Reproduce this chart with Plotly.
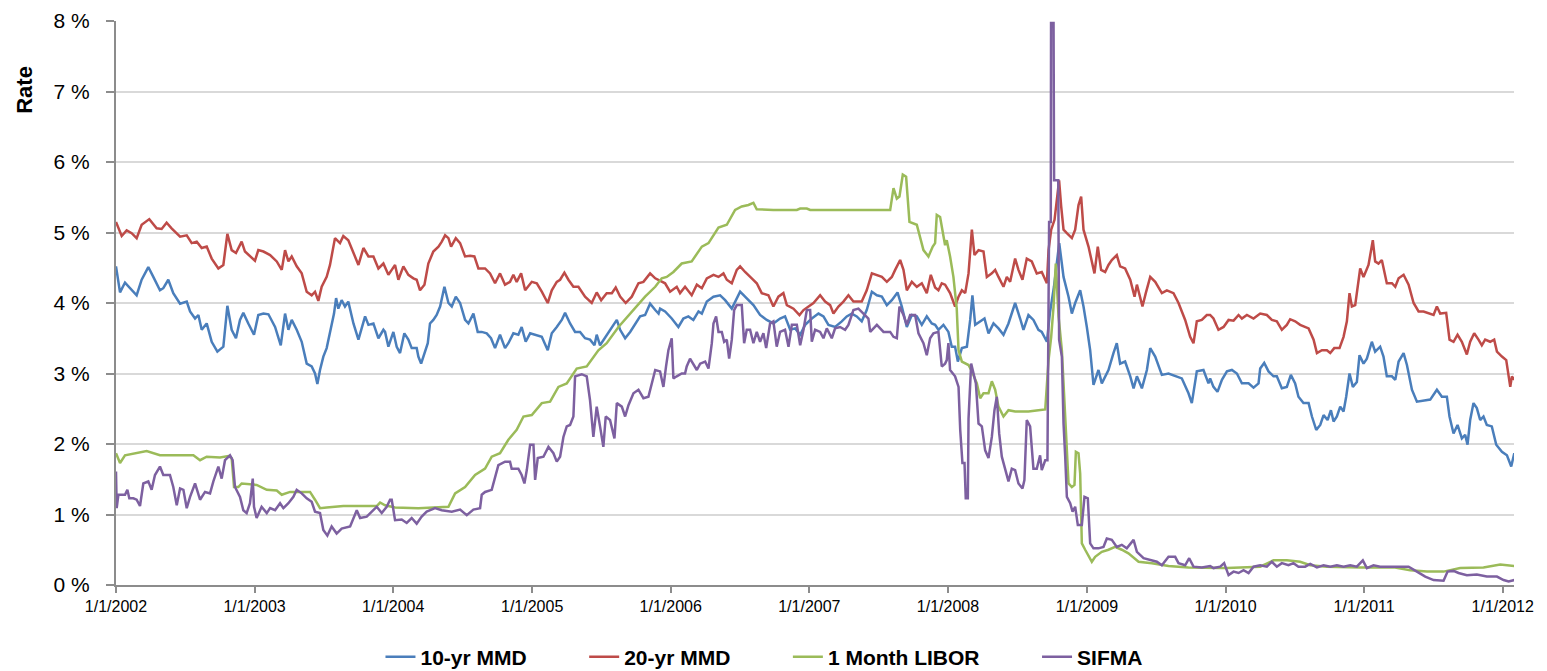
import pandas as pd
import plotly.graph_objects as go

# ---- data: time in years since 1/1/2002, values in percent ----
mmd10_t = [0.000,0.029,0.065,0.101,0.149,0.185,0.233,0.269,0.317,0.341,0.377,0.413,0.462,0.510,0.534,0.570,0.594,0.618,0.654,0.690,0.731,0.774,0.803,0.834,0.865,0.894,0.918,0.954,0.995,1.026,1.063,1.099,1.147,1.188,1.219,1.243,1.267,1.303,1.339,1.375,1.411,1.435,1.452,1.471,1.495,1.519,1.543,1.572,1.587,1.603,1.627,1.651,1.675,1.712,1.748,1.772,1.796,1.820,1.856,1.892,1.928,
           1.940,1.964,2.000,2.024,2.048,2.079,2.108,2.132,2.168,2.180,2.200,2.224,2.248,2.264,2.288,2.312,2.337,2.368,2.397,2.421,2.450,2.481,2.517,2.541,2.577,2.608,2.637,2.673,2.704,2.733,2.769,2.805,2.829,2.865,2.901,2.925,2.954,2.986,3.022,3.070,3.113,3.142,3.178,3.214,3.238,3.274,3.310,3.346,3.382,3.418,3.450,3.466,3.490,3.538,3.575,3.611,3.635,3.671,3.707,3.743,3.779,3.815,3.851,3.888,3.912,
           3.923,3.959,4.007,4.055,4.091,4.127,4.163,4.200,4.224,4.260,4.308,4.356,4.392,4.440,4.500,4.548,4.596,4.644,4.692,4.740,4.788,4.824,4.861,4.897,4.933,4.969,5.017,5.065,5.101,5.137,5.185,5.233,5.269,5.305,5.341,5.377,5.413,5.450,5.486,5.522,5.558,5.594,5.635,5.666,5.702,5.738,5.774,5.810,5.846,5.882,
           5.906,5.930,5.966,6.002,6.026,6.050,6.070,6.099,6.135,6.159,6.175,6.195,6.231,6.262,6.291,6.327,6.363,6.399,6.435,6.483,6.519,6.543,6.579,6.615,6.651,6.675,6.712,6.734,6.763,6.801,6.832,6.868,6.892,6.916,6.952,6.976,7.000,7.024,7.048,7.084,7.108,7.156,7.192,7.216,7.240,7.276,7.313,7.337,7.361,7.397,7.433,7.457,7.493,7.541,7.589,7.637,7.685,7.733,7.757,7.793,7.841,7.877,
           7.889,7.913,7.942,7.974,8.010,8.046,8.082,8.118,8.166,8.202,8.238,8.250,8.279,8.310,8.346,8.370,8.406,8.442,8.471,8.502,8.526,8.562,8.599,8.623,8.654,8.683,8.707,8.736,8.760,8.779,8.803,8.827,8.851,8.870,8.894,8.918,8.947,8.966,8.995,9.019,9.055,9.079,9.115,9.139,9.163,9.200,9.224,9.248,9.284,9.308,9.344,9.380,9.428,9.476,9.524,9.560,9.596,9.615,9.644,9.673,9.704,9.728,9.745,9.764,9.788,9.812,9.836,9.860,9.884,9.920,9.952,9.993,10.029,10.060,10.082]
mmd10_v = [4.52,4.15,4.29,4.21,4.11,4.33,4.51,4.37,4.18,4.21,4.33,4.14,3.99,4.02,3.88,3.78,3.83,3.62,3.71,3.45,3.31,3.38,3.96,3.62,3.50,3.76,3.86,3.71,3.55,3.83,3.85,3.84,3.66,3.40,3.85,3.62,3.76,3.62,3.45,3.14,3.10,3.00,2.85,3.05,3.24,3.36,3.59,3.85,4.07,3.92,4.04,3.95,4.02,3.71,3.48,3.66,3.81,3.69,3.71,3.50,3.62,
           3.59,3.38,3.59,3.38,3.29,3.57,3.48,3.36,3.36,3.24,3.14,3.29,3.43,3.71,3.76,3.83,3.95,4.23,4.00,3.95,4.09,4.00,3.76,3.71,3.85,3.59,3.59,3.57,3.50,3.36,3.55,3.36,3.43,3.57,3.55,3.66,3.45,3.57,3.55,3.52,3.33,3.57,3.66,3.76,3.86,3.71,3.59,3.59,3.50,3.48,3.40,3.55,3.40,3.55,3.66,3.76,3.62,3.50,3.59,3.71,3.81,3.83,3.99,3.90,3.85,
           3.92,3.88,3.78,3.66,3.78,3.81,3.76,3.88,3.85,4.02,4.09,4.11,4.04,3.92,4.16,4.07,3.97,3.83,3.76,3.71,3.78,3.81,3.62,3.64,3.55,3.69,3.78,3.85,3.81,3.69,3.66,3.74,3.81,3.85,3.81,3.74,3.90,4.16,4.11,4.09,3.97,4.04,4.15,3.95,3.66,3.83,3.81,3.69,3.81,3.71,
           3.69,3.62,3.69,3.59,3.38,3.38,3.17,3.36,3.38,3.76,4.11,3.69,3.74,3.78,3.57,3.71,3.64,3.55,3.71,4.00,3.78,3.62,3.83,3.76,3.62,3.59,3.45,3.86,4.23,4.85,4.37,4.09,3.85,4.00,4.18,3.95,3.66,3.33,2.84,3.05,2.86,3.05,3.29,3.43,3.14,3.17,2.96,2.79,2.96,2.79,3.05,3.36,3.24,2.98,3.00,2.96,2.93,2.72,2.58,3.03,3.05,2.86,
           2.93,2.81,2.74,2.91,3.03,3.05,3.00,2.86,2.86,2.80,2.86,3.07,3.15,3.03,2.96,2.96,2.79,2.81,2.98,2.86,2.67,2.58,2.58,2.39,2.20,2.27,2.41,2.34,2.48,2.32,2.39,2.53,2.46,2.67,3.00,2.81,2.88,3.26,3.14,3.21,3.45,3.31,3.38,3.24,2.96,2.96,2.91,3.17,3.29,3.12,2.77,2.60,2.62,2.63,2.77,2.67,2.67,2.39,2.15,2.27,2.08,2.13,1.99,2.34,2.58,2.51,2.34,2.39,2.27,2.25,1.99,1.89,1.84,1.68,1.87]

mmd20_t = [0.000,0.041,0.077,0.113,0.149,0.185,0.240,0.293,0.329,0.365,0.401,0.462,0.510,0.546,0.582,0.618,0.654,0.690,0.738,0.774,0.803,0.834,0.865,0.906,0.930,0.966,1.002,1.026,1.063,1.111,1.159,1.195,1.219,1.243,1.267,1.303,1.339,1.375,1.411,1.435,1.459,1.483,1.519,1.543,1.579,1.615,1.639,1.675,1.712,1.748,1.784,1.820,1.856,1.892,1.928,
           1.964,1.988,2.012,2.036,2.072,2.108,2.144,2.168,2.192,2.224,2.252,2.288,2.325,2.349,2.373,2.397,2.416,2.450,2.481,2.517,2.553,2.584,2.613,2.661,2.697,2.733,2.769,2.805,2.841,2.865,2.889,2.921,2.950,2.998,3.034,3.070,3.113,3.142,3.178,3.202,3.233,3.262,3.298,3.334,3.382,3.430,3.466,3.498,3.538,3.575,3.603,3.635,3.675,3.719,3.767,3.803,3.851,3.888,
           3.923,3.959,3.995,4.043,4.067,4.103,4.151,4.188,4.224,4.260,4.308,4.344,4.380,4.404,4.440,4.476,4.500,4.536,4.584,4.620,4.656,4.704,4.740,4.776,4.812,4.837,4.885,4.928,4.957,4.993,5.029,5.077,5.113,5.149,5.173,5.209,5.245,5.281,5.317,5.377,5.413,5.450,5.486,5.522,5.558,5.594,5.618,5.654,5.678,5.702,5.738,5.774,5.810,5.846,5.875,
           5.906,5.930,5.954,5.978,6.014,6.050,6.075,6.099,6.123,6.147,6.171,6.190,6.219,6.255,6.279,6.315,6.339,6.363,6.399,6.423,6.447,6.483,6.507,6.536,6.567,6.603,6.639,6.675,6.700,6.712,6.724,6.743,6.767,6.784,6.800,6.815,6.832,6.856,6.892,6.916,6.940,6.959,6.976,7.012,7.036,7.055,7.079,7.103,7.132,7.156,7.180,7.216,7.240,7.276,7.313,7.344,7.361,7.401,7.425,7.457,7.493,7.541,7.577,7.625,7.661,7.709,7.745,7.769,7.793,7.829,7.865,
           7.889,7.913,7.949,7.986,8.022,8.058,8.094,8.118,8.154,8.202,8.250,8.298,8.334,8.370,8.406,8.442,8.466,8.502,8.538,8.599,8.635,8.659,8.695,8.731,8.755,8.784,8.822,8.851,8.875,8.894,8.911,8.935,8.959,8.971,8.995,9.031,9.062,9.079,9.103,9.127,9.163,9.200,9.224,9.248,9.284,9.320,9.356,9.392,9.428,9.464,9.500,9.524,9.548,9.591,9.615,9.644,9.673,9.704,9.740,9.764,9.793,9.824,9.848,9.872,9.908,9.937,9.957,9.993,10.024,10.053,10.065,10.082]
mmd20_v = [5.15,4.95,5.03,4.99,4.92,5.11,5.19,5.06,5.05,5.14,5.06,4.94,4.96,4.85,4.87,4.78,4.80,4.63,4.49,4.54,4.98,4.75,4.71,4.87,4.73,4.66,4.60,4.75,4.73,4.68,4.59,4.47,4.75,4.59,4.66,4.52,4.42,4.16,4.11,4.16,4.03,4.23,4.37,4.54,4.92,4.85,4.95,4.89,4.70,4.54,4.78,4.66,4.66,4.49,4.56,
           4.40,4.47,4.54,4.33,4.52,4.40,4.35,4.33,4.18,4.26,4.56,4.73,4.80,4.87,4.96,4.92,4.80,4.92,4.85,4.66,4.67,4.66,4.49,4.49,4.42,4.28,4.42,4.26,4.30,4.40,4.30,4.42,4.18,4.30,4.28,4.16,4.00,4.18,4.30,4.33,4.43,4.33,4.23,4.23,4.09,4.00,4.15,4.04,4.14,4.14,4.22,4.09,4.00,4.09,4.28,4.30,4.42,4.35,
           4.32,4.28,4.16,4.23,4.14,4.23,4.11,4.26,4.21,4.35,4.40,4.37,4.42,4.33,4.28,4.47,4.52,4.44,4.35,4.28,4.14,4.11,3.95,4.09,4.14,3.97,3.92,3.83,3.90,3.95,4.00,4.11,4.02,3.97,3.85,3.95,4.02,4.11,4.02,4.02,4.18,4.42,4.40,4.37,4.30,4.37,4.47,4.61,4.47,4.18,4.30,4.23,4.28,4.14,4.40,
           4.22,4.18,4.28,4.26,4.14,3.95,4.09,4.18,4.14,4.42,5.04,4.68,4.75,4.73,4.37,4.42,4.47,4.37,4.23,4.37,4.30,4.63,4.47,4.33,4.63,4.59,4.42,4.44,4.33,4.28,4.75,5.04,5.18,5.51,5.74,5.37,5.04,4.99,4.92,5.04,5.39,5.51,5.04,4.80,4.56,4.42,4.80,4.47,4.44,4.54,4.61,4.68,4.52,4.49,4.33,4.09,4.26,3.95,4.14,4.37,4.30,4.14,4.18,4.14,4.00,3.76,3.52,3.43,3.74,3.76,3.83,
           3.83,3.78,3.62,3.66,3.76,3.75,3.83,3.78,3.83,3.78,3.85,3.83,3.76,3.74,3.62,3.69,3.77,3.74,3.69,3.64,3.48,3.29,3.33,3.33,3.29,3.36,3.36,3.52,3.74,4.14,3.95,3.97,4.33,4.49,4.37,4.54,4.89,4.59,4.56,4.61,4.28,4.28,4.23,4.35,4.40,4.26,4.00,3.88,3.88,3.85,3.83,3.95,3.85,3.86,3.48,3.45,3.55,3.45,3.27,3.45,3.57,3.48,3.40,3.48,3.45,3.48,3.31,3.24,3.19,2.81,2.96,2.91]

libor_t = [0.000,0.029,0.065,0.149,0.221,0.317,0.558,0.606,0.654,0.750,0.810,0.834,0.851,0.882,0.906,1.014,1.087,1.159,1.195,1.255,1.399,1.435,1.471,1.519,1.639,1.880,1.904,
           1.940,2.012,2.180,2.397,2.445,2.517,2.589,2.661,2.709,2.769,2.829,2.889,2.938,2.998,3.070,3.130,3.190,3.250,3.322,3.394,3.478,3.538,3.623,3.707,3.815,3.888,3.935,
           3.971,4.019,4.079,4.151,4.224,4.272,4.344,4.404,4.464,4.512,4.560,4.596,4.620,4.740,4.909,4.933,4.981,5.005,5.582,5.606,5.630,5.649,5.673,5.697,5.721,5.774,5.822,5.858,5.889,5.906,5.918,5.942,5.978,
           5.990,6.014,6.038,6.062,6.075,6.099,6.147,6.171,6.207,6.231,6.255,6.291,6.315,6.339,6.363,6.399,6.435,6.483,6.579,6.651,6.700,6.724,6.743,6.760,6.776,6.796,6.820,6.844,6.868,6.892,6.911,6.921,6.940,6.952,6.964,6.988,7.036,7.060,7.108,7.156,7.204,7.252,7.300,7.373,7.469,7.589,7.733,
           7.962,8.010,8.250,8.346,8.442,8.538,8.611,8.731,8.971,9.212,9.332,9.452,9.572,9.692,9.860,9.981,10.082]
libor_v = [1.87,1.73,1.84,1.87,1.90,1.84,1.84,1.77,1.82,1.81,1.83,1.80,1.39,1.39,1.44,1.42,1.35,1.34,1.28,1.32,1.32,1.21,1.09,1.10,1.12,1.12,1.17,
           1.13,1.10,1.09,1.11,1.30,1.39,1.56,1.65,1.82,1.87,2.06,2.20,2.39,2.41,2.58,2.60,2.81,2.86,3.07,3.10,3.33,3.43,3.66,3.85,4.09,4.23,4.35,
           4.37,4.44,4.56,4.59,4.80,4.85,5.07,5.11,5.32,5.37,5.39,5.42,5.33,5.32,5.32,5.34,5.34,5.32,5.32,5.63,5.48,5.51,5.82,5.79,5.15,5.11,4.75,4.66,4.80,4.85,5.25,5.22,4.82,
           4.89,4.66,4.37,3.92,3.33,3.17,3.12,3.03,2.86,2.65,2.72,2.72,2.89,2.77,2.53,2.39,2.48,2.46,2.46,2.48,2.49,3.19,3.52,3.95,4.56,3.81,3.33,2.39,1.44,1.39,1.42,1.89,1.87,1.58,0.59,0.50,0.33,0.40,0.47,0.50,0.54,0.50,0.45,0.33,0.31,0.27,0.25,
           0.24,0.24,0.26,0.35,0.35,0.33,0.28,0.26,0.25,0.25,0.21,0.19,0.19,0.24,0.25,0.29,0.27]

sifma_t = [0.000,0.005,0.017,0.065,0.082,0.096,0.125,0.149,0.173,0.197,0.233,0.257,0.281,0.317,0.341,0.389,0.413,0.438,0.462,0.486,0.510,0.534,0.570,0.606,0.642,0.678,0.702,0.738,0.762,0.786,0.822,0.841,0.858,0.894,0.918,0.942,0.966,0.986,0.995,1.014,1.050,1.087,1.111,1.147,1.183,1.207,1.243,1.279,1.303,1.339,1.375,1.411,1.435,1.471,1.495,1.524,1.555,1.591,1.627,1.688,1.736,1.760,1.808,1.856,1.880,1.916,1.952,1.976,
           1.988,2.012,2.060,2.096,2.132,2.168,2.204,2.240,2.300,2.349,2.421,2.481,2.529,2.577,2.625,2.637,2.661,2.709,2.733,2.757,2.805,2.841,2.853,2.901,2.925,2.945,2.962,2.986,3.010,3.022,3.041,3.082,3.118,3.154,3.178,3.202,3.226,3.250,3.274,3.298,3.310,3.358,3.394,3.418,3.442,3.466,3.490,3.514,3.531,3.562,3.594,3.611,3.647,3.671,3.695,3.731,3.767,3.803,3.839,3.863,3.888,3.923,
           3.947,3.966,3.983,4.007,4.019,4.043,4.079,4.103,4.115,4.139,4.163,4.188,4.212,4.248,4.272,4.296,4.308,4.327,4.344,4.368,4.385,4.404,4.421,4.440,4.457,4.476,4.512,4.529,4.548,4.572,4.596,4.620,4.644,4.668,4.688,4.716,4.740,4.764,4.788,4.824,4.849,4.873,4.909,4.933,4.957,4.981,5.005,5.017,5.041,5.077,5.101,5.125,5.161,5.185,5.221,5.257,5.281,5.317,5.353,5.389,5.425,5.438,5.486,5.534,5.582,5.606,5.630,5.649,5.678,5.702,5.726,5.762,5.786,5.822,5.846,5.870,5.894,5.930,5.954,5.978,
           5.990,6.002,6.014,6.050,6.075,6.087,6.103,6.118,6.127,6.142,6.147,6.166,6.183,6.200,6.219,6.243,6.267,6.291,6.315,6.334,6.351,6.368,6.387,6.411,6.435,6.459,6.483,6.507,6.536,6.550,6.567,6.591,6.615,6.639,6.663,6.675,6.700,6.716,6.728,6.740,6.742,6.760,6.764,6.794,6.800,6.820,6.832,6.844,6.856,6.880,6.897,6.916,6.935,6.964,6.983,7.007,7.024,7.048,7.084,7.120,7.144,7.180,7.216,7.252,7.288,7.337,7.361,7.409,7.457,7.505,7.541,7.589,7.637,7.661,7.709,7.738,7.769,7.829,
           7.889,7.913,7.962,7.990,8.022,8.058,8.094,8.130,8.166,8.202,8.250,8.298,8.334,8.370,8.406,8.454,8.490,8.526,8.574,8.611,8.659,8.707,8.755,8.803,8.851,8.899,8.947,8.990,9.019,9.067,9.115,9.163,9.236,9.320,9.380,9.440,9.500,9.572,9.601,9.644,9.680,9.740,9.812,9.884,9.957,10.005,10.041,10.082]
sifma_v = [1.61,1.09,1.28,1.28,1.35,1.23,1.23,1.21,1.12,1.44,1.47,1.35,1.56,1.68,1.56,1.56,1.39,1.13,1.37,1.35,1.09,1.25,1.44,1.21,1.32,1.30,1.47,1.68,1.51,1.77,1.84,1.77,1.39,1.25,1.06,1.02,1.16,1.51,1.11,0.95,1.11,1.02,1.09,1.06,1.16,1.09,1.16,1.25,1.35,1.30,1.23,1.18,1.04,1.02,0.78,0.70,0.83,0.73,0.80,0.83,1.06,0.95,0.97,1.06,1.11,1.02,1.11,1.21,
           1.21,0.92,0.93,0.88,0.95,0.87,0.97,1.04,1.09,1.06,1.04,1.07,0.99,1.07,1.09,1.28,1.32,1.35,1.51,1.70,1.75,1.75,1.65,1.65,1.56,1.44,1.63,1.99,1.99,1.49,1.80,1.82,1.96,1.87,1.75,1.82,2.10,2.25,2.27,2.39,2.96,2.99,2.96,2.62,2.10,2.53,2.25,1.96,2.39,2.34,2.08,2.58,2.53,2.39,2.55,2.72,2.77,2.65,2.67,2.86,3.05,3.03,
           2.81,3.10,3.33,3.50,2.93,2.96,3.00,3.00,3.10,3.21,3.14,3.05,3.14,3.17,3.07,3.43,3.71,3.81,3.59,3.59,3.45,3.48,3.21,3.48,3.90,3.97,3.97,3.43,3.62,3.62,3.43,3.59,3.45,3.57,3.36,3.71,3.74,3.38,3.59,3.62,3.38,3.69,3.69,3.40,3.62,3.90,3.90,3.45,3.62,3.59,3.50,3.64,3.50,3.64,3.66,3.62,3.69,3.90,3.92,3.85,3.78,3.59,3.69,3.59,3.59,3.52,3.50,3.95,3.83,3.69,3.83,3.83,3.57,3.43,3.26,3.50,3.57,3.59,3.10,3.14,
           3.19,3.43,3.05,2.96,2.81,2.20,1.73,1.73,1.23,1.23,2.36,3.14,3.00,2.86,2.29,2.25,1.91,1.80,2.10,2.48,2.67,2.15,1.82,1.63,1.47,1.65,1.63,1.44,1.37,1.49,2.34,2.25,1.65,1.65,1.84,1.63,1.77,1.77,5.15,5.15,7.97,7.97,5.74,5.74,3.48,3.24,2.29,1.82,1.25,1.16,1.04,1.11,0.85,0.85,1.25,1.23,0.59,0.52,0.52,0.54,0.66,0.64,0.54,0.57,0.52,0.64,0.47,0.38,0.35,0.33,0.28,0.40,0.40,0.31,0.28,0.38,0.26,0.25,
           0.27,0.24,0.26,0.31,0.14,0.19,0.17,0.21,0.17,0.26,0.28,0.26,0.33,0.26,0.31,0.28,0.31,0.26,0.26,0.30,0.25,0.28,0.26,0.28,0.26,0.28,0.26,0.35,0.24,0.28,0.26,0.26,0.25,0.26,0.19,0.12,0.07,0.06,0.19,0.20,0.17,0.14,0.15,0.12,0.12,0.07,0.05,0.07]

series_names = ["10-yr MMD", "20-yr MMD", "1 Month LIBOR", "SIFMA"]
series_colors = ["#4A7EBB", "#BE4B48", "#9BBB59", "#7D60A0"]
year_ticks = list(range(2002, 2013))
y_ticks = list(range(0, 9))

START = pd.Timestamp("2002-01-01")

def to_dates(years):
    return [START + pd.Timedelta(days=y * 365.25) for y in years]

PAD = "&nbsp;" * 9
fig = go.Figure()
for i, (name, color, t, v) in enumerate(zip(series_names, series_colors,
                             [mmd10_t, mmd20_t, libor_t, sifma_t],
                             [mmd10_v, mmd20_v, libor_v, sifma_v])):
    label = name + (PAD if i < len(series_names) - 1 else "")
    fig.add_trace(go.Scatter(x=to_dates(t), y=v, mode="lines", name=label,
                             line=dict(color=color, width=2.5)))

FONT = "Liberation Sans, Arial, sans-serif"
fig.update_layout(
    width=1531, height=663,
    margin=dict(l=108, r=25, t=13, b=86, autoexpand=False),
    paper_bgcolor="white", plot_bgcolor="white",
    font=dict(family=FONT, color="black"),
    showlegend=True,
    legend=dict(orientation="h", x=0.4635, xanchor="center", y=-0.1277, yanchor="middle",
                font=dict(size=21, family=FONT, weight="bold"),
                tracegroupgap=0),
    annotations=[dict(text="<b>Rate</b>", textangle=-90, x=-0.0651, y=0.878,
                      xanchor="center", yanchor="middle",
                      xref="paper", yref="paper", showarrow=False,
                      font=dict(size=22, family=FONT))],
)
fig.update_xaxes(
    range=[START, START + pd.Timedelta(days=10.08 * 365.25)],
    tickvals=[pd.Timestamp(f"{y}-01-01") for y in year_ticks],
    ticktext=[f"1/1/{y}" for y in year_ticks],
    tickangle=0,
    showgrid=False, zeroline=False,
    showline=True, linecolor="#8c8c8c", linewidth=2,
    ticks="outside", ticklen=6, tickwidth=2, tickcolor="#8c8c8c",
    tickfont=dict(size=16, family=FONT),
)
fig.update_yaxes(
    range=[0, 8],
    tickvals=y_ticks, ticktext=[f"{v} %" for v in y_ticks],
    showgrid=True, gridcolor="#d9d9d9", gridwidth=2, zeroline=False,
    showline=True, linecolor="#8c8c8c", linewidth=2,
    ticks="outside", ticklen=8, tickwidth=2, tickcolor="#8c8c8c",
    tickfont=dict(size=21, family=FONT),
    ticklabelstandoff=12,
)

fig.write_html("out.html")
